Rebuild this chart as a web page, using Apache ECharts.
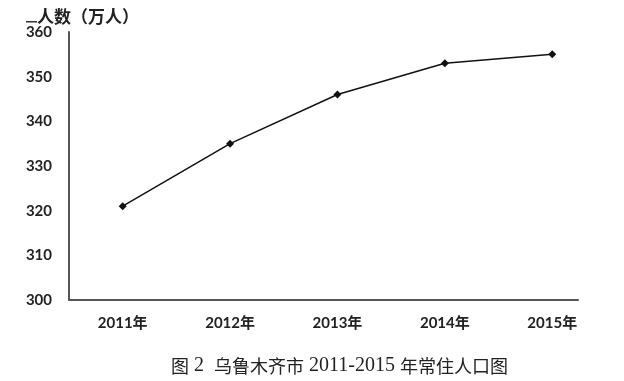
<!DOCTYPE html>
<html><head><meta charset="utf-8">
<script src="https://cdn.jsdelivr.net/npm/echarts@6/dist/echarts.min.js"></script>
<style>html,body{margin:0;padding:0;background:#fff}#c{width:624px;height:381px}</style>
</head><body><div id="c"></div>
<script>
const years = [2011, 2012, 2013, 2014, 2015];
const population = [321, 335, 346, 353, 355];
const yTicks = [300, 310, 320, 330, 340, 350, 360];
const yName = '人数（万人）';
const captionParts = [['a', '图'], ['b', ' 2  '], ['a', '乌鲁木齐市'], ['b', ' 2011-2015 '], ['a', '年常住人口图']];

const chart = echarts.init(document.getElementById('c'));
chart.setOption({
  animation: false,
  backgroundColor: '#fff',
  grid: { left: 69, right: 46, top: 32, bottom: 81 },
  xAxis: {
    type: 'value', min: 2010.5, max: 2015.24,
    axisLine: { show: true, lineStyle: { color: '#555', width: 2 } },
    axisTick: { show: false },
    splitLine: { show: false },
    axisLabel: {
      customValues: years, margin: 16,
      formatter: v => v + '年',
      fontFamily: 'Lato, "Noto Sans CJK SC"', fontWeight: 'bold', fontSize: 15, color: '#222'
    }
  },
  yAxis: {
    type: 'value', min: yTicks[0], max: yTicks[yTicks.length - 1], interval: 10,
    axisLine: { show: true, lineStyle: { color: '#555', width: 2 } },
    axisTick: { show: false },
    splitLine: { show: false },
    axisLabel: { margin: 17, fontFamily: 'Lato', fontWeight: 'bold', fontSize: 15, color: '#222' }
  },
  graphic: [
    { type: 'text', left: 37, top: 8, style: { text: yName, font: 'bold 17px "Noto Sans CJK SC"', fill: '#222' } },
    { type: 'rect', shape: { x: 26, y: 21, width: 11, height: 1.5 }, style: { fill: '#333' } },
    { type: 'text', x: 171, y: 366, style: {
        text: captionParts.map(p => '{' + p[0] + '|' + p[1] + '}').join(''),
        verticalAlign: 'middle', fill: '#222',
        rich: {
          a: { fontFamily: '"Noto Sans CJK SC"', fontSize: 18, fill: '#222' },
          b: { fontFamily: '"Liberation Serif"', fontSize: 20, fill: '#222' }
        }
      } }
  ],
  series: [{
    type: 'line',
    data: years.map((y, i) => [y, population[i]]),
    symbol: 'diamond', symbolSize: 8,
    lineStyle: { color: '#111', width: 1.5 },
    itemStyle: { color: '#111' }
  }]
});
</script></body></html>
